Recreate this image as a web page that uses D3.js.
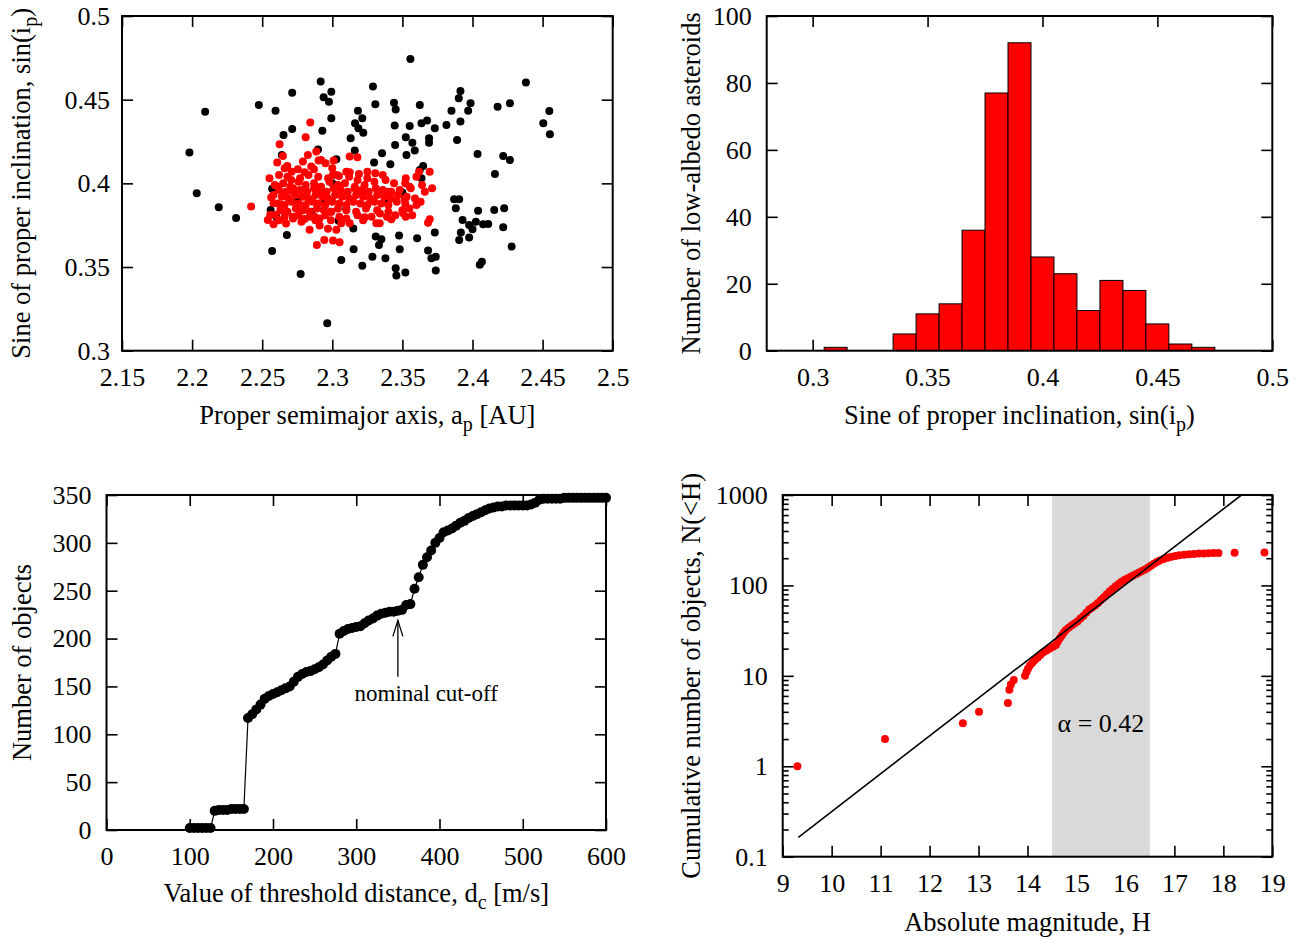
<!DOCTYPE html>
<html>
<head>
<meta charset="utf-8">
<script src="https://cdnjs.cloudflare.com/ajax/libs/d3/7.8.5/d3.min.js"></script>
<style>
  body { margin: 0; background: #fff; }
  svg text { font-family: "Liberation Serif", "Times New Roman", serif; font-size: 26px; fill: #000; }
</style>
</head>
<body>
<script>
// ---- panel 1: proper elements, all objects (black) and low-albedo (red)
const blackPoints = [
  [2.3557,0.4743],[2.2917,0.4608],[2.4381,0.4602],[2.3290,0.4578],[2.3914,0.4552],[2.2993,0.4548],
  [2.2714,0.4542],[2.2938,0.4514],[2.2976,0.4488],[2.3902,0.4508],[2.2476,0.4468],[2.3307,0.4472],
  [2.3440,0.4482],[2.3452,0.4442],[2.3624,0.4468],[2.3986,0.4478],[2.4267,0.4478],[2.4179,0.4458],
  [2.2093,0.4428],[2.2595,0.4434],[2.3850,0.4434],[2.3969,0.4434],[2.4548,0.4432],[2.4505,0.4359],
  [2.4552,0.4293],[2.3183,0.4434],[2.3214,0.4389],[2.2993,0.4389],[2.3162,0.4359],[2.3186,0.4329],
  [2.3221,0.4303],[2.3131,0.4269],[2.3445,0.4345],[2.3552,0.4343],[2.3636,0.4359],[2.3676,0.4375],
  [2.3731,0.4329],[2.3814,0.4349],[2.3914,0.4369],[2.2929,0.4315],[2.2714,0.4325],[2.2652,0.4289],
  [2.3524,0.4275],[2.3690,0.4269],[2.3690,0.4243],[2.3571,0.4243],[2.3890,0.4259],[2.3448,0.4229],
  [2.3588,0.4196],[2.3529,0.4170],[2.3160,0.4196],[2.3355,0.4180],[2.1981,0.4184],[2.4036,0.4176],
  [2.4219,0.4164],[2.4267,0.4140],[2.3298,0.4124],[2.3414,0.4114],[2.3648,0.4104],[2.3624,0.4080],
  [2.4160,0.4056],[2.3029,0.4144],[2.2898,0.4203],[2.2640,0.4170],[2.3636,0.4030],[2.3500,0.3945],
  [2.2033,0.3941],[2.2583,0.3961],[2.2190,0.3857],[2.2314,0.3793],[2.3869,0.3905],[2.3905,0.3905],
  [2.3881,0.3851],[2.4040,0.3837],[2.4155,0.3841],[2.4226,0.3851],[2.3929,0.3781],[2.3976,0.3751],
  [2.4024,0.3771],[2.4076,0.3755],[2.4112,0.3757],[2.4000,0.3726],[2.3917,0.3706],[2.3905,0.3662],
  [2.3976,0.3676],[2.4219,0.3738],[2.4279,0.3622],[2.3731,0.3706],[2.3605,0.3672],[2.3476,0.3688],
  [2.3481,0.3606],[2.3310,0.3682],[2.3350,0.3666],[2.3333,0.3632],[2.3152,0.3606],[2.2676,0.3692],
  [2.2571,0.3596],[2.3064,0.3542],[2.3286,0.3562],[2.3379,0.3552],[2.3214,0.3507],[2.3683,0.3598],
  [2.3707,0.3552],[2.3738,0.3562],[2.4052,0.3513],[2.4067,0.3532],[2.3452,0.3493],[2.3457,0.3449],
  [2.3521,0.3467],[2.3738,0.3479],[2.2774,0.3459],[2.2964,0.3164],[2.3045,0.3777],[2.2571,0.3968],
  [2.2560,0.3841],[2.3100,0.3850],[2.2950,0.3900],[2.3200,0.3950],[2.2850,0.3830],[2.3000,0.4000],
  [2.2750,0.3900],[2.3400,0.3900],[2.3150,0.3730],[2.2600,0.3800]
];
const redPoints = [
  [2.2843,0.4363],[2.2810,0.4275],[2.2624,0.4233],[2.2648,0.4164],[2.2607,0.4124],[2.2679,0.4104],
  [2.2826,0.4170],[2.2886,0.4190],[2.2902,0.4136],[2.2952,0.4120],[2.3010,0.4136],[2.3124,0.4160],
  [2.3179,0.4156],[2.2552,0.4030],[2.2612,0.3980],[2.2564,0.3915],[2.2581,0.3881],[2.2640,0.3871],
  [2.2557,0.3811],[2.2540,0.3781],[2.2581,0.3755],[2.2595,0.3811],[2.2755,0.4084],[2.2802,0.4066],
  [2.2869,0.4084],[2.2707,0.4020],[2.2719,0.3951],[2.3124,0.4066],[2.3190,0.4056],[2.3307,0.4060],
  [2.3005,0.4050],[2.3048,0.4044],[2.3524,0.4030],[2.3600,0.4040],[2.3619,0.4070],[2.3695,0.4070],
  [2.3552,0.3980],[2.3712,0.3971],[2.3612,0.3885],[2.3517,0.3905],[2.3505,0.3821],[2.3524,0.3801],
  [2.3695,0.3785],[2.3683,0.3765],[2.3231,0.3797],[2.3314,0.3761],[2.3338,0.3761],[2.3421,0.3785],
  [2.2890,0.3632],[2.2943,0.3662],[2.3005,0.3658],[2.3052,0.3648],[2.2838,0.3722],[2.2910,0.3748],
  [2.2969,0.3728],[2.3029,0.3722],[2.3124,0.3761],[2.3064,0.3761],[2.2719,0.3801],[2.2802,0.3787],
  [2.2874,0.3801],[2.2993,0.3831],[2.2421,0.3861],
  [2.265,0.400],[2.270,0.398],[2.276,0.401],[2.281,0.399],[2.287,0.400],[2.292,0.398],[2.298,0.401],
  [2.304,0.399],[2.309,0.400],[2.316,0.398],[2.323,0.399],[2.330,0.401],[2.344,0.400],
  [2.262,0.396],[2.267,0.395],[2.272,0.397],[2.277,0.396],[2.282,0.395],[2.287,0.397],[2.291,0.396],
  [2.296,0.395],[2.301,0.397],[2.306,0.396],[2.311,0.395],[2.316,0.397],[2.321,0.396],[2.326,0.395],
  [2.331,0.397],[2.336,0.396],[2.342,0.395],[2.348,0.396],[2.356,0.397],
  [2.264,0.392],[2.269,0.391],[2.274,0.393],[2.279,0.392],[2.283,0.391],[2.288,0.393],[2.293,0.392],
  [2.297,0.391],[2.302,0.393],[2.307,0.392],[2.312,0.391],[2.317,0.393],[2.322,0.392],[2.327,0.391],
  [2.332,0.393],[2.337,0.392],[2.342,0.391],[2.347,0.393],[2.353,0.392],[2.359,0.391],
  [2.261,0.388],[2.266,0.387],[2.271,0.389],[2.276,0.388],[2.281,0.387],[2.286,0.389],[2.290,0.388],
  [2.295,0.387],[2.300,0.389],[2.305,0.388],[2.310,0.387],[2.315,0.389],[2.320,0.388],[2.325,0.387],
  [2.330,0.389],[2.335,0.388],[2.340,0.387],[2.346,0.389],[2.352,0.388],[2.360,0.387],
  [2.263,0.384],[2.268,0.383],[2.274,0.385],[2.279,0.384],[2.284,0.383],[2.289,0.385],[2.294,0.384],
  [2.299,0.383],[2.304,0.385],[2.310,0.384],[2.317,0.383],[2.324,0.385],[2.332,0.384],[2.340,0.383],
  [2.350,0.384],
  [2.266,0.380],[2.276,0.381],[2.291,0.379],[2.305,0.380],[2.318,0.381],[2.339,0.380],
  [2.268,0.404],[2.283,0.405],[2.297,0.403],[2.312,0.404],[2.336,0.405],
  [2.258,0.393],[2.259,0.399],[2.262,0.405],[2.266,0.409],[2.271,0.407],[2.262,0.378],[2.267,0.376],
  [2.272,0.379],[2.278,0.377],[2.284,0.380],[2.288,0.378],[2.295,0.381],[2.299,0.378],[2.310,0.379],
  [2.322,0.378],[2.328,0.380],[2.334,0.382],[2.345,0.381],[2.355,0.385],[2.357,0.381],[2.363,0.389],
  [2.366,0.395],[2.364,0.399],[2.352,0.400],[2.338,0.402],[2.325,0.403],[2.318,0.402],[2.303,0.405],
  [2.290,0.404],[2.277,0.403],[2.285,0.410],[2.300,0.409],[2.310,0.407],[2.325,0.407],[2.340,0.395],
  [2.279,0.413],[2.292,0.414]
];

// ---- panel 2: histogram of sin(i_p), bins of 0.01
const binLow = [0.305,0.335,0.345,0.355,0.365,0.375,0.385,0.395,0.405,0.415,0.425,0.435,0.445,0.455,0.465];
const binCounts = [1,5,11,14,36,77,92,28,23,12,21,18,8,2,1];
const binWidth = 0.01;

// ---- panel 3: number of members vs threshold distance
const dcValues = [
  100,105,110,115,120,125,130,135,140,145,150,155,160,165,170,175,180,185,190,195,
  200,205,210,215,220,225,230,235,240,245,250,255,260,265,270,275,280,285,290,295,
  300,305,310,315,320,325,330,335,340,345,350,355,360,365,370,375,380,385,390,395,
  400,405,410,415,420,425,430,435,440,445,450,455,460,465,470,475,480,485,490,495,
  500,505,510,515,520,525,530,535,540,545,550,555,560,565,570,575,580,585,590,595,600
];
const memberCounts = [
  2,2,2,2,2,2,20,21,21,21,22,22,22,22,117,121,126,131,137,140,
  142,144,146,148,150,155,160,163,165,166,168,170,173,177,181,184,205,208,210,211,
  212,213,216,219,221,224,226,227,228,228,229,230,235,236,252,264,277,285,292,300,
  305,311,313,315,318,321,323,326,328,330,332,334,336,337,338,338,339,339,339,339,
  339,339,340,342,345,346,346,346,346,346,347,347,347,347,347,347,347,347,347,347,347
];
const nominalCutoff = 350;

// ---- panel 4: cumulative H distribution
const magH = [
  9.30,11.09,12.68,13.01,13.60,13.63,13.66,13.72,13.95,13.98,14.01,14.05,14.10,14.15,14.21,14.26,
  14.31,14.38,14.45,14.52,14.58,14.62,14.66,14.70,14.74,14.78,14.84,14.90,14.96,15.02,15.08,15.14,
  15.20,15.26,15.32,15.38,15.44,15.50,15.56,15.62,15.68,15.74,15.80,15.86,15.92,15.98,16.04,16.10,
  16.16,16.22,16.28,16.34,16.40,16.46,16.52,16.58,16.64,16.70,16.78,16.86,16.94,17.02,17.10,17.20,
  17.30,17.40,17.50,17.60,17.70,17.80,17.90,18.23,18.84
];
const cumN = [
  1,2,3,4,5,7,8,9,10,11,12,13,14,15,16,17,
  18,19,20,21,22,24,26,28,30,32,34,36,38,40,43,46,
  50,54,57,60,64,69,74,80,86,92,98,104,110,115,119,124,
  129,134,139,144,150,157,165,174,182,189,196,202,207,211,215,218,
  221,223,225,226,227,228,229,230,231
];
const fitLine = [[9.32, 0.164], [18.37, 1000]];
const fitRange = [14.5, 16.5];
const alphaText = "\u03b1 = 0.42";

const W = 1302, H = 939;
const TICK = 11;

const svg = d3.select("body").append("svg")
  .attr("width", W)
  .attr("height", H);

function panel(box){
  return svg.append("g").attr("transform", "translate(" + box.left + "," + box.top + ")");
}

// inward ticks on all four sides, labels on bottom and left only
function axes(g, x, y, box, opt){
  g.append("g").classed("axis", true)
    .attr("transform", "translate(0," + box.height + ")")
    .call(d3.axisBottom(x).tickValues(opt.xTicks).tickSize(-TICK).tickPadding(17)
      .tickFormat(opt.xFormat || (d => d)));
  g.append("g").classed("axis", true)
    .call(d3.axisTop(x).tickValues(opt.xTicks).tickSize(-TICK).tickFormat(""));
  g.append("g").classed("axis", true)
    .call(d3.axisLeft(y).tickValues(opt.yTicks).tickSize(-TICK).tickPadding(opt.yPad || 15)
      .tickFormat(opt.yFormat || (d => d)));
  g.append("g").classed("axis", true)
    .attr("transform", "translate(" + box.width + ",0)")
    .call(d3.axisRight(y).tickValues(opt.yTicks).tickSize(-TICK).tickFormat(""));
  tidy(g);
}

function tidy(g){
  g.selectAll(".axis").attr("font-family", null).attr("font-size", null);
  g.selectAll(".axis .domain").remove();
  g.selectAll(".axis line").attr("stroke", "#000").attr("stroke-width", 1.6);
}

function frame(g, box){
  g.append("rect")
    .attr("width", box.width)
    .attr("height", box.height)
    .attr("fill", "none")
    .attr("stroke", "#000")
    .attr("stroke-width", 2);
}

// text with one subscript: parts = [before, sub, after]
function subText(sel, parts){
  sel.append("tspan").text(parts[0]);
  sel.append("tspan").attr("dy", 7).style("font-size", "20px").text(parts[1]);
  sel.append("tspan").attr("dy", -7).text(parts[2]);
  return sel;
}

function xTitle(box, baseline, parts){
  const t = svg.append("text")
    .attr("x", box.left + box.width / 2)
    .attr("y", baseline)
    .attr("text-anchor", "middle")
    .style("font-size", "26.5px");
  if (parts.length === 1) t.text(parts[0]); else subText(t, parts);
}

function yTitle(box, xpos, parts){
  const t = svg.append("text")
    .attr("transform", "translate(" + xpos + "," + (box.top + box.height / 2) + ") rotate(-90)")
    .attr("text-anchor", "middle")
    .style("font-size", "26.5px");
  if (parts.length === 1) t.text(parts[0]); else subText(t, parts);
}

// ================= panel 1 =================
const b1 = {left: 122, top: 16, width: 490.7, height: 334.7};
const g1 = panel(b1);
const x1 = d3.scaleLinear().domain([2.15, 2.5]).range([0, b1.width]);
const y1 = d3.scaleLinear().domain([0.3, 0.5]).range([b1.height, 0]);
axes(g1, x1, y1, b1, {
  xTicks: [2.15, 2.2, 2.25, 2.3, 2.35, 2.4, 2.45, 2.5],
  yTicks: [0.3, 0.35, 0.4, 0.45, 0.5],
  yPad: 12
});
g1.selectAll(".black").data(blackPoints).enter()
  .append("circle").classed("black", true)
  .attr("cx", d => x1(d[0])).attr("cy", d => y1(d[1])).attr("r", 4)
  .attr("fill", "#000");
g1.selectAll(".red").data(redPoints).enter()
  .append("circle").classed("red", true)
  .attr("cx", d => x1(d[0])).attr("cy", d => y1(d[1])).attr("r", 4)
  .attr("fill", "#ff0000");
frame(g1, b1);
xTitle(b1, 424, ["Proper semimajor axis, a", "p", " [AU]"]);
yTitle(b1, 30, ["Sine of proper inclination, sin(i", "p", ")"]);

// ================= panel 2 =================
const b2 = {left: 766.7, top: 16, width: 505.6, height: 334.7};
const g2 = panel(b2);
const x2 = d3.scaleLinear().domain([0.28, 0.5]).range([0, b2.width]);
const y2 = d3.scaleLinear().domain([0, 100]).range([b2.height, 0]);
axes(g2, x2, y2, b2, {
  xTicks: [0.3, 0.35, 0.4, 0.45, 0.5],
  yTicks: [0, 20, 40, 60, 80, 100]
});
g2.selectAll(".bar").data(binLow).enter()
  .append("rect").classed("bar", true)
  .attr("x", d => x2(d))
  .attr("width", x2(binWidth) - x2(0))
  .attr("y", (d, i) => y2(binCounts[i]))
  .attr("height", (d, i) => y2(0) - y2(binCounts[i]))
  .attr("fill", "#ff0000")
  .attr("stroke", "#000")
  .attr("stroke-width", 1);
frame(g2, b2);
xTitle(b2, 424, ["Sine of proper inclination, sin(i", "p", ")"]);
yTitle(b2, 700, ["Number of low-albedo asteroids"]);

// ================= panel 3 =================
const b3 = {left: 106.5, top: 495, width: 499.5, height: 335};
const g3 = panel(b3);
const x3 = d3.scaleLinear().domain([0, 600]).range([0, b3.width]);
const y3 = d3.scaleLinear().domain([0, 350]).range([b3.height, 0]);
axes(g3, x3, y3, b3, {
  xTicks: [0, 100, 200, 300, 400, 500, 600],
  yTicks: [0, 50, 100, 150, 200, 250, 300, 350]
});
const members = dcValues.map((d, i) => [d, memberCounts[i]]);
const line3 = d3.line().x(d => x3(d[0])).y(d => y3(d[1]));
g3.append("path")
  .datum(members)
  .attr("d", line3)
  .attr("fill", "none")
  .attr("stroke", "#000")
  .attr("stroke-width", 1.2);
g3.selectAll(".pt").data(members).enter()
  .append("circle").classed("pt", true)
  .attr("cx", d => x3(d[0])).attr("cy", d => y3(d[1])).attr("r", 5)
  .attr("fill", "#000");
// nominal cut-off arrow
const ax = x3(nominalCutoff), aTip = y3(219), aTail = y3(160);
g3.append("line")
  .attr("x1", ax).attr("x2", ax).attr("y1", aTail).attr("y2", aTip)
  .attr("stroke", "#000").attr("stroke-width", 1.3);
g3.append("path")
  .attr("d", "M" + (ax - 5) + "," + (aTip + 16) + "L" + ax + "," + aTip + "L" + (ax + 5) + "," + (aTip + 16))
  .attr("fill", "none").attr("stroke", "#000").attr("stroke-width", 1.3);
g3.append("text")
  .attr("x", x3(384)).attr("y", y3(135))
  .attr("text-anchor", "middle")
  .style("font-size", "23px")
  .text("nominal cut-off");
frame(g3, b3);
xTitle(b3, 902, ["Value of threshold distance, d", "c", " [m/s]"]);
yTitle(b3, 31, ["Number of objects"]);

// ================= panel 4 =================
const b4 = {left: 782.7, top: 495, width: 489.6, height: 361.7};
const g4 = panel(b4);
const x4 = d3.scaleLinear().domain([9, 19]).range([0, b4.width]);
const y4 = d3.scaleLog().domain([0.1, 1000]).range([b4.height, 0]);
axes(g4, x4, y4, b4, {
  xTicks: d3.range(9, 20),
  yTicks: [0.1, 1, 10, 100, 1000],
  yFormat: d => String(d)
});
// minor log ticks, left and right
const minor = y4.ticks().filter(v => Math.abs(Math.log10(v) - Math.round(Math.log10(v))) > 1e-6);
g4.append("g").classed("axis", true)
  .call(d3.axisLeft(y4).tickValues(minor).tickSize(-6).tickFormat(""));
g4.append("g").classed("axis", true)
  .attr("transform", "translate(" + b4.width + ",0)")
  .call(d3.axisRight(y4).tickValues(minor).tickSize(-6).tickFormat(""));
tidy(g4);

g4.append("rect")
  .attr("x", x4(fitRange[0]))
  .attr("width", x4(fitRange[1]) - x4(fitRange[0]))
  .attr("y", 0)
  .attr("height", b4.height)
  .attr("fill", "#d9d9d9");

const cum = magH.map((d, i) => [d, cumN[i]]);
g4.selectAll(".cum").data(cum).enter()
  .append("circle").classed("cum", true)
  .attr("cx", d => x4(d[0])).attr("cy", d => y4(d[1])).attr("r", 4)
  .attr("fill", "#ff0000");

svg.append("clipPath").attr("id", "clip4")
  .append("rect").attr("width", b4.width).attr("height", b4.height);
g4.append("path")
  .datum(fitLine)
  .attr("clip-path", "url(#clip4)")
  .attr("d", d3.line().x(d => x4(d[0])).y(d => y4(d[1])))
  .attr("fill", "none")
  .attr("stroke", "#000")
  .attr("stroke-width", 1.6);

g4.append("text")
  .attr("x", x4(15.5)).attr("y", y4(2.4))
  .attr("text-anchor", "middle")
  .style("font-size", "26px")
  .text(alphaText);
frame(g4, b4);
xTitle(b4, 931, ["Absolute magnitude, H"]);
yTitle(b4, 700, ["Cumulative number of objects, N(<H)"]);
</script>
</body>
</html>
